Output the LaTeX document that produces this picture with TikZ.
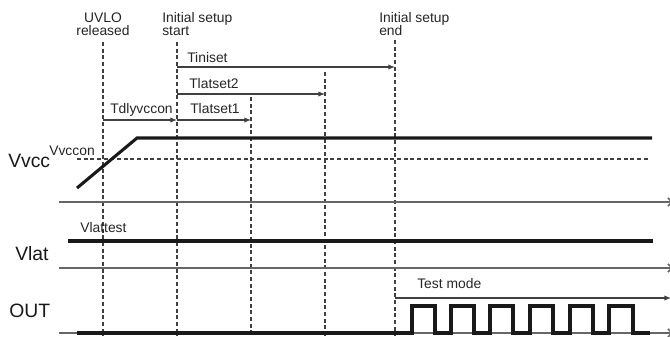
\documentclass[tikz,border=0pt]{standalone}
\usepackage{fontspec}
\setmainfont{Liberation Sans}
\usetikzlibrary{arrows.meta}
\begin{document}
\begin{tikzpicture}[x=0.75pt,y=-0.75pt,
  lbl/.style={font=\fontsize{10.4}{12}\selectfont, inner sep=0pt, anchor=base west, text=black!85},
  big/.style={font=\fontsize{14.5}{16}\selectfont, inner sep=0pt, anchor=base west, text=black!90},
  axis/.style={draw=black!60, line width=1.1pt, -{Straight Barb[length=3pt,width=6pt]}},
  sig/.style={draw=black!90, line width=2.3pt},
  guide/.style={draw=black!75, line width=0.8pt, dash pattern=on 3pt off 2pt},
  dimarrow/.style={draw=black!75, line width=0.8pt, -{Latex[length=5pt,width=4pt]}}]
\clip (0,0) rectangle (670,336);
\fill[white] (0,0) rectangle (670,336);

% timing markers
\coordinate (uvloT) at (103,42);  \coordinate (uvloB) at (103,336);
\coordinate (startT) at (177,42); \coordinate (startB) at (177,336);
\coordinate (l1T) at (251,97);    \coordinate (l1B) at (251,336);
\coordinate (l2T) at (325,72);    \coordinate (l2B) at (325,336);
\coordinate (endT) at (395,40);   \coordinate (endB) at (395,336);

% guides
\draw[guide] (uvloT) -- (uvloB);
\draw[guide] (startT) -- (startB);
\draw[guide] (l1T) -- (l1B);
\draw[guide] (l2T) -- (l2B);
\draw[guide] (endT) -- (endB);

% top labels
\node[lbl, anchor=base] (uvlo1) at (103,22) {UVLO};
\node[lbl, anchor=base] (uvlo2) at (103,35) {released};
\node[lbl] (st1) at (162,22) {Initial setup};
\node[lbl] (st2) at (162,35) {start};
\node[lbl] (en1) at (379,22) {Initial setup};
\node[lbl] (en2) at (379,35) {end};

% dimension arrows
\coordinate (tiA) at (177,67);  \coordinate (tiB) at (395,67);
\coordinate (t2A) at (177,94);  \coordinate (t2B) at (325,94);
\coordinate (t1A) at (177,120); \coordinate (t1B) at (251,120);
\coordinate (tdA) at (103,120); \coordinate (tdB) at (177,120);
\coordinate (tmA) at (395,298); \coordinate (tmB) at (671,298);
\draw[dimarrow] (tiA) -- (tiB);
\draw[dimarrow] (t2A) -- (t2B);
\draw[dimarrow] (t1A) -- (t1B);
\draw[dimarrow] (tdA) -- (tdB);
\draw[dimarrow] (tmA) -- (tmB);
\node[lbl] (tiniset) at (187,62) {Tiniset};
\node[lbl] (tlatset2) at (189,88) {Tlatset2};
\node[lbl] (tlatset1) at (190,113) {Tlatset1};
\node[lbl] (tdly) at (110,113) {Tdlyvccon};
\node[lbl] (tmode) at (417,288) {Test mode};

% axes
\coordinate (ax1A) at (59,202); \coordinate (ax1B) at (673,202);
\coordinate (ax2A) at (59,268); \coordinate (ax2B) at (673,268);
\coordinate (ax3A) at (59,333); \coordinate (ax3B) at (673,333);
\draw[axis] (ax1A) -- (ax1B);
\draw[axis] (ax2A) -- (ax2B);
\draw[axis] (ax3A) -- (ax3B);

% Vvcc
\coordinate (vcA) at (77,159); \coordinate (vcB) at (650,159);
\draw[guide] (vcA) -- (vcB);
\draw[sig] (77,188) -- (137,138) -- (652,138);
\node[lbl] (vvccon) at (49,155) {Vvccon};
\node[big] (vvcc) at (8,167) {Vvcc};

% Vlat
\draw[sig] (68,241) -- (653,241);
\node[lbl] (vlattest) at (80,232) {Vlattest};
\node[big] (vlat) at (15,260) {Vlat};

% OUT
\draw[sig] (77,333) -- (412,333)
  foreach \r/\f in {412/435,451/474,490/513,530/553,570/593,609/633} { -- (\r,333) -- (\r,306) -- (\f,306) -- (\f,333) }
  -- (650,333);
\node[big] (out) at (9,317) {OUT};
\end{tikzpicture}
\end{document}
